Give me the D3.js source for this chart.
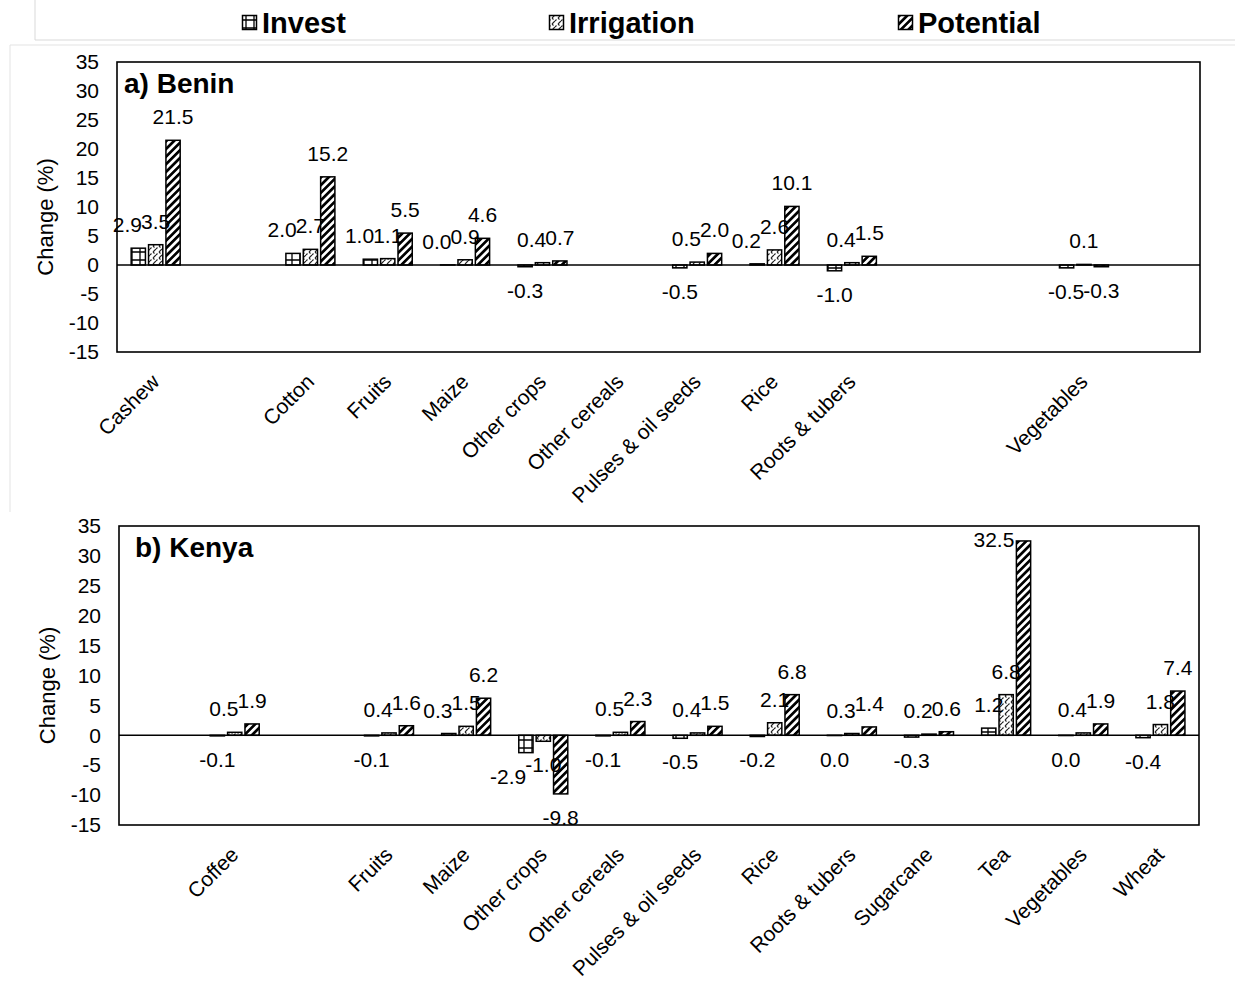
<!DOCTYPE html>
<meta charset="utf-8">
<style>
  body{ margin:0; background:#fff; }
  svg{ display:block; }
  text{ font-family: Arial, "Liberation Sans", sans-serif; fill:#000; }
</style>
<body>
<script src="https://cdn.jsdelivr.net/npm/d3@7"></script>
<script>
// all crop slots, shared by both panels (blank slots keep the spacing)
var crops = ["Cashew", "Coffee", "Cotton", "Fruits", "Maize", "Other crops", "Other cereals",
             "Pulses & oil seeds", "Rice", "Roots & tubers", "Sugarcane", "Tea", "Vegetables", "Wheat"];
var series = ["Invest", "Irrigation", "Potential"];
var yTicks = [-15, -10, -5, 0, 5, 10, 15, 20, 25, 30, 35];

// a) Benin
var beninLabels = ["Cashew", "Cotton", "Fruits", "Maize", "Other crops", "Other cereals",
                   "Pulses & oil seeds", "Rice", "Roots & tubers", "Vegetables"];
var beninInvest     = [2.9, null, 2.0, 1.0, 0.02, -0.3, null, -0.5, 0.2, -1.0, null, null, -0.5, null];
var beninIrrigation = [3.5, null, 2.7, 1.1, 0.9,   0.4, null,  0.5, 2.6,  0.4, null, null,  0.1, null];
var beninPotential  = [21.5, null, 15.2, 5.5, 4.6, 0.7, null,  2.0, 10.1, 1.5, null, null, -0.3, null];

// b) Kenya
var kenyaLabels = ["Coffee", "Fruits", "Maize", "Other crops", "Other cereals", "Pulses & oil seeds",
                   "Rice", "Roots & tubers", "Sugarcane", "Tea", "Vegetables", "Wheat"];
var kenyaInvest     = [null, -0.1, null, -0.1, 0.3, -2.9, -0.1, -0.5, -0.2, -0.04, -0.3, 1.2, -0.04, -0.4];
var kenyaIrrigation = [null,  0.5, null,  0.4, 1.5, -1.0,  0.5,  0.4,  2.1,  0.3,   0.2, 6.8,  0.4,   1.8];
var kenyaPotential  = [null,  1.9, null,  1.6, 6.2, -9.8,  2.3,  1.5,  6.8,  1.4,   0.6, 32.5, 1.9,   7.4];

var width = 1235, height = 983;
var fontSize = 21;

var svg = d3.select("body").append("svg")
  .attr("width", width)
  .attr("height", height);

var defs = svg.append("defs");

// Invest: large grid
var pI = defs.append("pattern").attr("id", "pInvest")
  .attr("patternUnits", "userSpaceOnUse").attr("width", 8).attr("height", 8);
pI.append("rect").attr("width", 8).attr("height", 8).attr("fill", "#fff");
pI.append("path").attr("d", "M0,4H8M4,0V8").attr("stroke", "#000").attr("stroke-width", 1.3);

// Irrigation: dotted diamond
var pR = defs.append("pattern").attr("id", "pIrrigation")
  .attr("patternUnits", "userSpaceOnUse").attr("width", 6).attr("height", 6);
pR.append("rect").attr("width", 6).attr("height", 6).attr("fill", "#fff");
pR.append("path").attr("d", "M0,3L1.5,1.5M3,0L4.5,1.5M3,6L4.5,4.5M6,3L4.5,4.5")
  .attr("stroke", "#222").attr("stroke-width", 1.1);

// Potential: wide upward diagonal
var pP = defs.append("pattern").attr("id", "pPotential")
  .attr("patternUnits", "userSpaceOnUse").attr("width", 5.4).attr("height", 10)
  .attr("patternTransform", "rotate(45)");
pP.append("rect").attr("width", 5.4).attr("height", 10).attr("fill", "#fff");
pP.append("rect").attr("width", 2.7).attr("height", 10).attr("fill", "#000");

var fmt = d3.formatLocale({decimal: ".", thousands: ",", grouping: [3], currency: ["", ""], minus: "-"}).format(".1f");

// light frames from the original figure
svg.append("path").attr("d", "M35,0V40H1235").attr("fill", "none").attr("stroke", "#d9d9d9");
svg.append("path").attr("d", "M1235,45H10V512").attr("fill", "none").attr("stroke", "#e3e3e3");

// legend
var legendX = [242, 549, 898];
var leg = svg.append("g").selectAll("g").data(series).join("g")
  .attr("transform", function(d, i){ return "translate(" + legendX[i] + ",0)"; });
leg.append("rect")
  .attr("x", 0.5).attr("y", 15.5).attr("width", 14).attr("height", 14)
  .attr("fill", function(d){ return "url(#p" + d + ")"; })
  .attr("stroke", "#000").attr("stroke-width", 1.5);
leg.append("text")
  .attr("x", 20).attr("y", 33)
  .attr("font-size", 29).attr("font-weight", "bold")
  .text(function(d){ return d; });

var panels = [
  {title: "a) Benin", labels: beninLabels, values: [beninInvest, beninIrrigation, beninPotential],
   top: 62, bottom: 352, left: 117, right: 1200, titlePad: 7},
  {title: "b) Kenya", labels: kenyaLabels, values: [kenyaInvest, kenyaIrrigation, kenyaPotential],
   top: 526, bottom: 825, left: 119, right: 1199, titlePad: 16}
];

panels.forEach(drawPanel);

function drawPanel(p){

  var x  = d3.scaleBand().domain(crops).range([p.left, p.right]);
  var xs = d3.scaleBand().domain(series).range([0, 49]).paddingInner(0.18);
  var y  = d3.scaleLinear().domain([-15, 35]).range([p.bottom, p.top]);

  var g = svg.append("g");

  g.append("rect")
    .attr("x", p.left).attr("y", p.top)
    .attr("width", p.right - p.left).attr("height", p.bottom - p.top)
    .attr("fill", "#fff").attr("stroke", "#000").attr("stroke-width", 1.6);

  var ax = g.append("g")
    .attr("transform", "translate(" + p.left + ",0)")
    .call(d3.axisLeft(y).tickValues(yTicks).tickSize(0).tickPadding(18)
      .tickFormat(function(d){ return String(d); }));
  ax.select(".domain").remove();
  ax.selectAll("text")
    .attr("font-size", fontSize)
    .attr("font-family", "Arial, 'Liberation Sans', sans-serif")
    .attr("fill", "#000");

  g.append("text")
    .attr("transform", "translate(" + (p.left - 64) + "," + ((p.top + p.bottom) / 2 + 10) + ") rotate(-90)")
    .attr("text-anchor", "middle")
    .attr("font-size", 22)
    .text("Change (%)");

  g.append("text")
    .attr("x", p.left + p.titlePad)
    .attr("y", p.top + 31)
    .attr("font-size", 28)
    .attr("font-weight", "bold")
    .text(p.title);

  // flatten to one row per bar
  var rows = [];
  crops.forEach(function(c, ci){
    series.forEach(function(s, si){
      var v = p.values[si][ci];
      if (v != null) rows.push({crop: c, series: s, value: v});
    });
  });

  function barX(d){ return x(d.crop) + x.bandwidth() / 2 - 24.5 + xs(d.series); }

  g.selectAll("rect.bar").data(rows).join("rect")
    .attr("class", "bar")
    .attr("x", barX)
    .attr("y", function(d){ return y(Math.max(0, d.value)); })
    .attr("width", xs.bandwidth())
    .attr("height", function(d){ return Math.abs(y(d.value) - y(0)); })
    .attr("fill", function(d){ return "url(#p" + d.series + ")"; })
    .attr("stroke", "#000")
    .attr("stroke-width", 1.5);

  g.append("line")
    .attr("x1", p.left).attr("x2", p.right)
    .attr("y1", y(0)).attr("y2", y(0))
    .attr("stroke", "#000").attr("stroke-width", 1.6);

  // value labels, outside end
  var lab = g.selectAll("text.val").data(rows).join("text")
    .attr("class", "val")
    .attr("font-size", fontSize)
    .attr("text-anchor", "middle")
    .text(function(d){ return fmt(d.value); });

  lab.each(function(d){
    d.w = this.getComputedTextLength();
    var bx = barX(d);
    d.lx = bx + xs.bandwidth() / 2;
    if (d.value >= 0) {
      d.ly = y(d.value) - 16;
      if (d.ly - 15 < p.top) {   // no room above: put it beside the bar
        d.lx = bx - 2 - d.w / 2;
        d.ly = y(d.value) + 6;
      }
    } else {
      d.ly = y(d.value) + 31;
    }
  });

  // push overlapping labels in a group to the left
  d3.groups(rows, function(d){ return d.crop; }).forEach(function(grp){
    var list = grp[1];
    for (var i = list.length - 2; i >= 0; i--) {
      for (var j = i + 1; j < list.length; j++) {
        var a = list[i], b = list[j];
        if (Math.abs(a.ly - b.ly) < 17) {
          var over = (a.lx + a.w / 2) - (b.lx - b.w / 2) - 1;
          if (over > 0) a.lx -= over;
        }
      }
    }
  });

  lab.attr("x", function(d){ return d.lx; })
     .attr("y", function(d){ return d.ly; });

  // category labels
  g.selectAll("text.cat").data(p.labels).join("text")
    .attr("class", "cat")
    .attr("text-anchor", "end")
    .attr("font-size", fontSize)
    .attr("transform", function(d){
      return "translate(" + (x(d) + x.bandwidth() / 2 + 5) + "," + (p.bottom + 31) + ") rotate(-45)";
    })
    .text(function(d){ return d; });
}
</script>
</body>
